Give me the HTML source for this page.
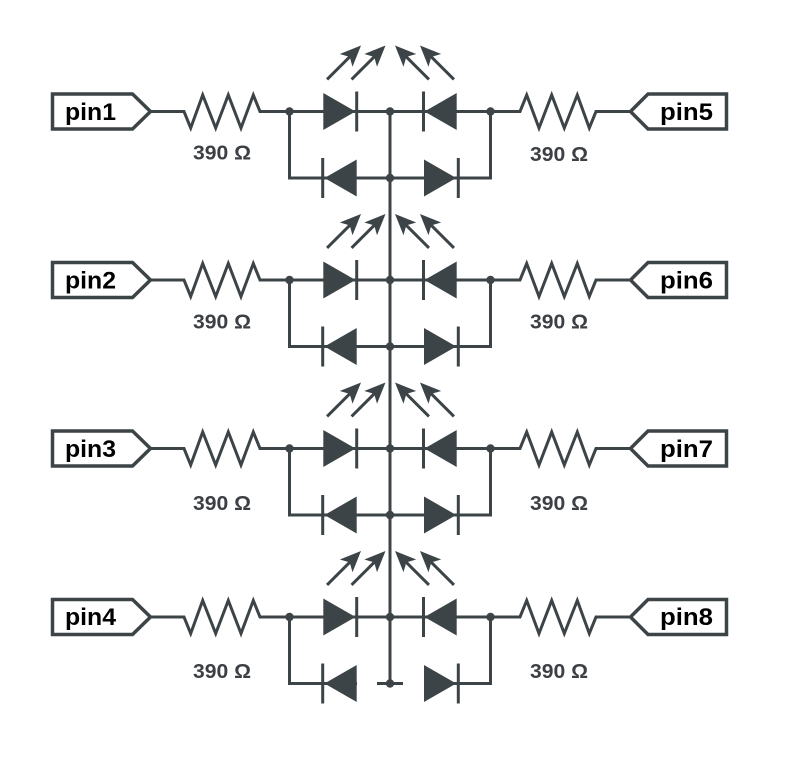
<!DOCTYPE html>
<html>
<head>
<meta charset="utf-8">
<style>
  html,body{margin:0;padding:0;background:#fff;}
  svg{display:block;}
  .w{stroke:#3c4447;stroke-width:3;fill:none;}
  .f{fill:#3c4447;}
  .pin{fill:#fff;stroke:#3c4447;stroke-width:3.5;stroke-linejoin:miter;}
  .pt{font-family:"Liberation Sans",Arial,sans-serif;font-weight:bold;font-size:24px;fill:#000;}
  .lb{font-family:"Liberation Sans",Arial,sans-serif;font-weight:bold;font-size:20px;fill:#3c4044;}
</style>
</head>
<body>
<svg width="795" height="763" viewBox="0 0 795 763" xmlns="http://www.w3.org/2000/svg">
  <defs>
    <g id="rowcommon">
      <polyline class="w" points="150,0 184,0 190.7,16.5 202.7,-16.5 215.7,16.5 228.3,-16.5 241,16.5 253.3,-16.5 260,0 520,0 526.7,-16.5 539,16.5 551.7,-16.5 564.3,16.5 577.3,-16.5 589.3,16.5 596,0 630,0"/>
      <line class="w" x1="289.5" y1="0" x2="289.5" y2="68"/>
      <line class="w" x1="490.5" y1="0" x2="490.5" y2="68"/>
      <polygon class="f" points="323.3,-18.5 355.5,0 323.3,18.5"/>
      <line class="w" x1="356.7" y1="-20" x2="356.7" y2="20"/>
      <polygon class="f" points="456.7,-18.5 424.5,0 456.7,18.5"/>
      <line class="w" x1="423.5" y1="-20" x2="423.5" y2="20"/>
      <polygon class="f" points="356.7,48 324.5,66.5 356.7,85"/>
      <line class="w" x1="322.7" y1="46.5" x2="322.7" y2="86.5"/>
      <polygon class="f" points="424,48 456.2,66.5 424,85"/>
      <line class="w" x1="458.3" y1="46.5" x2="458.3" y2="86.5"/>
      <g transform="translate(361,-66) rotate(-45)">
        <line x1="-48" y1="0" x2="-14" y2="0" stroke="#3c4447" stroke-width="3"/>
        <polygon points="0,0 -21,-9 -16,0 -21,9" fill="#3c4447"/>
      </g>
      <g transform="translate(385.5,-66) rotate(-45)">
        <line x1="-48" y1="0" x2="-14" y2="0" stroke="#3c4447" stroke-width="3"/>
        <polygon points="0,0 -21,-9 -16,0 -21,9" fill="#3c4447"/>
      </g>
      <g transform="translate(395,-66) rotate(-135)">
        <line x1="-48" y1="0" x2="-14" y2="0" stroke="#3c4447" stroke-width="3"/>
        <polygon points="0,0 -21,-9 -16,0 -21,9" fill="#3c4447"/>
      </g>
      <g transform="translate(420,-66) rotate(-135)">
        <line x1="-48" y1="0" x2="-14" y2="0" stroke="#3c4447" stroke-width="3"/>
        <polygon points="0,0 -21,-9 -16,0 -21,9" fill="#3c4447"/>
      </g>
      <polygon class="pin" points="52.5,-17.5 132.5,-17.5 150.5,0 132.5,17.5 52.5,17.5"/>
      <polygon class="pin" points="726.5,-17.5 648,-17.5 630.5,0 648,17.5 726.5,17.5"/>
    </g>
  </defs>

  <line class="w" x1="390" y1="111.5" x2="390" y2="683.5"/>

  <!-- Row 1 -->
  <g transform="translate(0,111.5)">
    <line class="w" x1="288" y1="66.5" x2="492" y2="66.5"/>
    <use href="#rowcommon"/>
    <circle class="f" cx="289.5" cy="0" r="4.2"/>
    <circle class="f" cx="390" cy="0" r="4.2"/>
    <circle class="f" cx="490.5" cy="0" r="4.2"/>
    <circle class="f" cx="390" cy="66.5" r="4.2"/>
    <text class="pt" x="65" y="8.5" textLength="51" lengthAdjust="spacingAndGlyphs">pin1</text>
    <text class="pt" x="660" y="8.5" textLength="53" lengthAdjust="spacingAndGlyphs">pin5</text>
  </g>
  <text class="lb" x="193" y="159.5" textLength="58" lengthAdjust="spacingAndGlyphs">390 Ω</text>
  <text class="lb" x="530" y="161" textLength="58" lengthAdjust="spacingAndGlyphs">390 Ω</text>

  <!-- Row 2 -->
  <g transform="translate(0,280)">
    <line class="w" x1="288" y1="66.5" x2="492" y2="66.5"/>
    <use href="#rowcommon"/>
    <circle class="f" cx="289.5" cy="0" r="4.2"/>
    <circle class="f" cx="390" cy="0" r="4.2"/>
    <circle class="f" cx="490.5" cy="0" r="4.2"/>
    <circle class="f" cx="390" cy="66.5" r="4.2"/>
    <text class="pt" x="65" y="8.5" textLength="51" lengthAdjust="spacingAndGlyphs">pin2</text>
    <text class="pt" x="660" y="8.5" textLength="53" lengthAdjust="spacingAndGlyphs">pin6</text>
  </g>
  <text class="lb" x="193" y="328.5" textLength="58" lengthAdjust="spacingAndGlyphs">390 Ω</text>
  <text class="lb" x="530" y="328.5" textLength="58" lengthAdjust="spacingAndGlyphs">390 Ω</text>

  <!-- Row 3 -->
  <g transform="translate(0,448.5)">
    <line class="w" x1="288" y1="66.5" x2="492" y2="66.5"/>
    <use href="#rowcommon"/>
    <circle class="f" cx="289.5" cy="0" r="4.2"/>
    <circle class="f" cx="390" cy="0" r="4.2"/>
    <circle class="f" cx="490.5" cy="0" r="4.2"/>
    <circle class="f" cx="390" cy="66.5" r="4.2"/>
    <text class="pt" x="65" y="8.5" textLength="51" lengthAdjust="spacingAndGlyphs">pin3</text>
    <text class="pt" x="660" y="8.5" textLength="53" lengthAdjust="spacingAndGlyphs">pin7</text>
  </g>
  <text class="lb" x="193" y="510" textLength="58" lengthAdjust="spacingAndGlyphs">390 Ω</text>
  <text class="lb" x="530" y="510" textLength="58" lengthAdjust="spacingAndGlyphs">390 Ω</text>

  <!-- Row 4 -->
  <g transform="translate(0,617)">
    <path class="w" d="M289.5,66.5 H357"/>
    <path class="w" d="M377,66.5 H403"/>
    <path class="w" d="M424,66.5 H490.5"/>
    <use href="#rowcommon"/>
    <circle class="f" cx="289.5" cy="0" r="4.2"/>
    <circle class="f" cx="390" cy="0" r="4.2"/>
    <circle class="f" cx="490.5" cy="0" r="4.2"/>
    <circle class="f" cx="390" cy="66.5" r="4.2"/>
    <text class="pt" x="65" y="8" textLength="51" lengthAdjust="spacingAndGlyphs">pin4</text>
    <text class="pt" x="660" y="8" textLength="53" lengthAdjust="spacingAndGlyphs">pin8</text>
  </g>
  <text class="lb" x="193" y="678" textLength="58" lengthAdjust="spacingAndGlyphs">390 Ω</text>
  <text class="lb" x="530" y="678" textLength="58" lengthAdjust="spacingAndGlyphs">390 Ω</text>
</svg>
</body>
</html>
